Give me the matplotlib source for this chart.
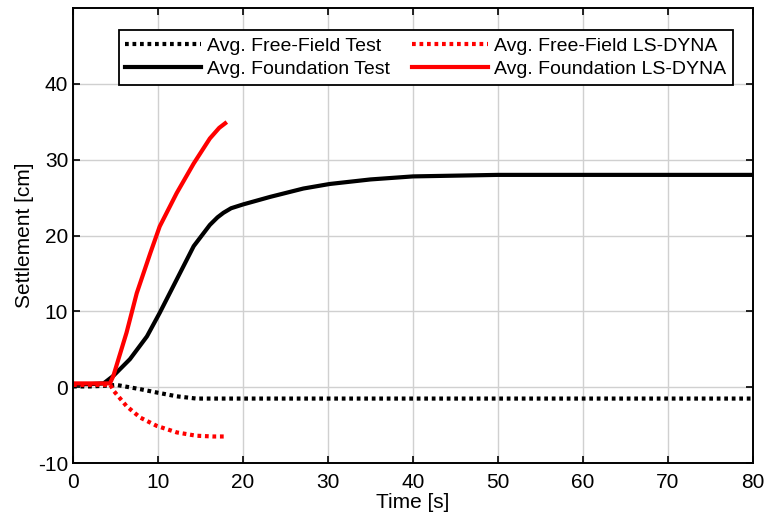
import matplotlib.pyplot as plt

plt.rcParams['font.family'] = ['Liberation Sans', 'DejaVu Sans']
plt.rcParams['axes.unicode_minus'] = False

# Avg. Free-Field Test
ff_test_t = [0, 2, 4, 5.1, 7.9, 9.85, 12.2, 14.5, 20, 40, 60, 80]
ff_test_v = [0.1, 0.1, 0.2, 0.3, -0.26, -0.7, -1.2, -1.5, -1.5, -1.5, -1.5, -1.5]

# Avg. Foundation Test
fd_test_t = [0, 2, 3.6, 4.75, 6.7, 8.7, 10.2, 12.2, 14.2, 16.1, 17.0, 17.7, 18.6, 20,
             23.2, 27.1, 30.2, 35, 40, 45, 50, 60, 70, 80]
fd_test_v = [0.4, 0.4, 0.5, 1.5, 3.7, 6.7, 9.8, 14.2, 18.6, 21.4, 22.4, 23.0, 23.6, 24.1,
             25.1, 26.2, 26.8, 27.4, 27.8, 27.9, 28, 28, 28, 28]

# Avg. Free-Field LS-DYNA
ff_dyna_t = [0, 2, 4.4, 4.8, 6.3, 7.9, 9.85, 12.2, 14.5, 16.5, 18]
ff_dyna_v = [0.3, 0.3, 0.3, -0.5, -2.5, -4, -5.1, -5.96, -6.4, -6.5, -6.5]

# Avg. Foundation LS-DYNA
fd_dyna_t = [0, 2, 4.35, 4.75, 6.3, 7.5, 9.1, 10.2, 12.2, 14.2, 16.1, 17.2, 17.9]
fd_dyna_v = [0.5, 0.5, 0.5, 1.5, 7.2, 12.4, 17.7, 21.2, 25.6, 29.5, 32.8, 34.2, 34.8]

fig = plt.figure(figsize=(7.66, 5.17), dpi=100)
ax = fig.add_axes([0.0953, 0.1044, 0.8877, 0.880])

dot = (0, (0.9, 0.9))
ax.plot(ff_test_t, ff_test_v, color='black', lw=3, ls=dot, label='Avg. Free-Field Test')
ax.plot(fd_test_t, fd_test_v, color='black', lw=3, label='Avg. Foundation Test')
ax.plot(ff_dyna_t, ff_dyna_v, color='red', lw=3, ls=dot, label='Avg. Free-Field LS-DYNA')
ax.plot(fd_dyna_t, fd_dyna_v, color='red', lw=3, label='Avg. Foundation LS-DYNA')

ax.set_xlim(0, 80)
ax.set_ylim(-10, 50)
ax.set_xticks(range(0, 81, 10))
ax.set_yticks([-10, 0, 10, 20, 30, 40])
ax.grid(True, color='#d0d0d0', lw=1.0)
ax.set_axisbelow(True)
ax.tick_params(direction='in', top=True, right=True, length=5, width=1.2,
               labelsize=15)
ax.tick_params(axis='y', pad=3.5)
ax.tick_params(axis='x', pad=7)
for s in ax.spines.values():
    s.set_linewidth(1.4)

ax.set_xlabel('Time [s]', fontsize=15, labelpad=1)
ax.set_ylabel('Settlement [cm]', fontsize=15, labelpad=3)

leg = ax.legend(ncol=2, loc='upper right', bbox_to_anchor=(0.9706, 0.9516),
                borderaxespad=0, fontsize=14, handlelength=3.9, handletextpad=0.3,
                columnspacing=1.15, frameon=True, fancybox=False, framealpha=1,
                edgecolor='black', borderpad=0.35, labelspacing=0.3)
leg.get_frame().set_linewidth(1.3)

fig.savefig('out.png', dpi=100)
